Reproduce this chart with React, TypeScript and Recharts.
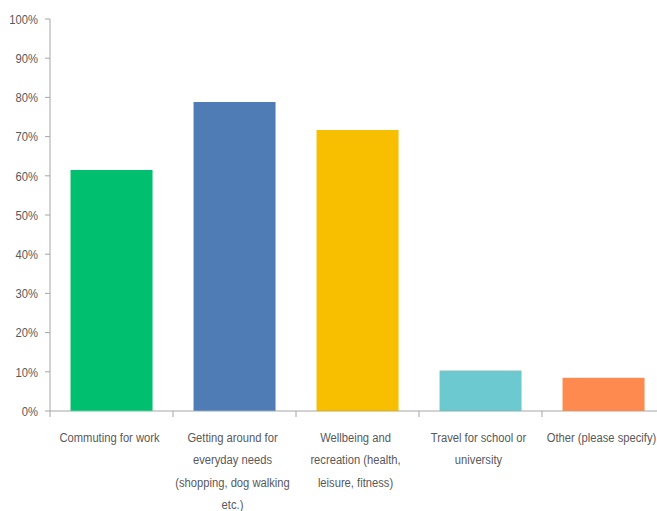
import { BarChart, Bar, XAxis, YAxis, Cell } from "recharts";

const categories = [
  "Commuting for work",
  "Getting around for everyday needs (shopping, dog walking etc.)",
  "Wellbeing and recreation (health, leisure, fitness)",
  "Travel for school or university",
  "Other (please specify)",
];
const labelLines = [
  ["Commuting for work"],
  ["Getting around for", "everyday needs", "(shopping, dog walking", "etc.)"],
  ["Wellbeing and", "recreation (health,", "leisure, fitness)"],
  ["Travel for school or", "university"],
  ["Other (please specify)"],
];
const shares = [61.5, 78.8, 71.7, 10.3, 8.5];
const barColors = ["#00BF6F", "#4F7CB5", "#F8BF00", "#6CC9CF", "#FF8A4F"];
const yTicks = [0, 10, 20, 30, 40, 50, 60, 70, 80, 90, 100];

const data = categories.map((name, i) => ({ name, value: shares[i] }));

const FONT = "'Liberation Sans', Arial, sans-serif";
const GREY = "#595959";
const AXIS = "#a6a6a6";
const NARROW = 0.83; // squeeze Arial toward Calibri's width

// category label plus a small tick at the left edge of each band
const CategoryTick = (props: any) => {
  const { x, y, index, payload } = props;
  const lines = labelLines[index] || [];
  const half = payload && payload.offset ? payload.offset : 61.5;
  return (
    <g>
      <line x1={x - half} x2={x - half} y1={y} y2={y + 6} stroke={AXIS} />
      <g transform={`translate(${x - 2},${y}) scale(${NARROW},1)`}>
        {lines.map((line, i) => (
          <text
            key={i}
            x={0}
            y={31 + i * 22.3}
            textAnchor="middle"
            fill={GREY}
            fontSize={13.5}
            fontFamily={FONT}
          >
            {line}
          </text>
        ))}
      </g>
    </g>
  );
};

const PercentTick = (props: any) => {
  const { x, y, payload } = props;
  return (
    <g transform={`translate(${x},${y}) scale(${NARROW},1)`}>
      <text
        x={0}
        y={0}
        dy="0.35em"
        textAnchor="end"
        fill={GREY}
        fontSize={13.5}
        fontFamily={FONT}
      >
        {`${payload.value}%`}
      </text>
    </g>
  );
};

const App = () => {
  return (
    <div
      style={{
        position: "absolute",
        left: 0,
        top: 0,
        width: 657,
        height: 511,
        overflow: "hidden",
        background: "#fff",
      }}
    >
      <BarChart
        width={665}
        height={511}
        data={data}
        margin={{ top: 19, right: 0, bottom: 0, left: 0 }}
        barCategoryGap="16.7%"
      >
        <XAxis
          dataKey="name"
          interval={0}
          stroke={AXIS}
          tickLine={false}
          tickSize={0}
          tickMargin={0}
          tick={<CategoryTick />}
          height={100}
        />
        <YAxis
          domain={[0, 100]}
          ticks={yTicks}
          width={50}
          stroke={AXIS}
          tickSize={5}
          tickMargin={7}
          tick={<PercentTick />}
        />
        <Bar dataKey="value" isAnimationActive={false}>
          {data.map((d, i) => (
            <Cell key={d.name} fill={barColors[i]} />
          ))}
        </Bar>
      </BarChart>
    </div>
  );
};

export default App;
